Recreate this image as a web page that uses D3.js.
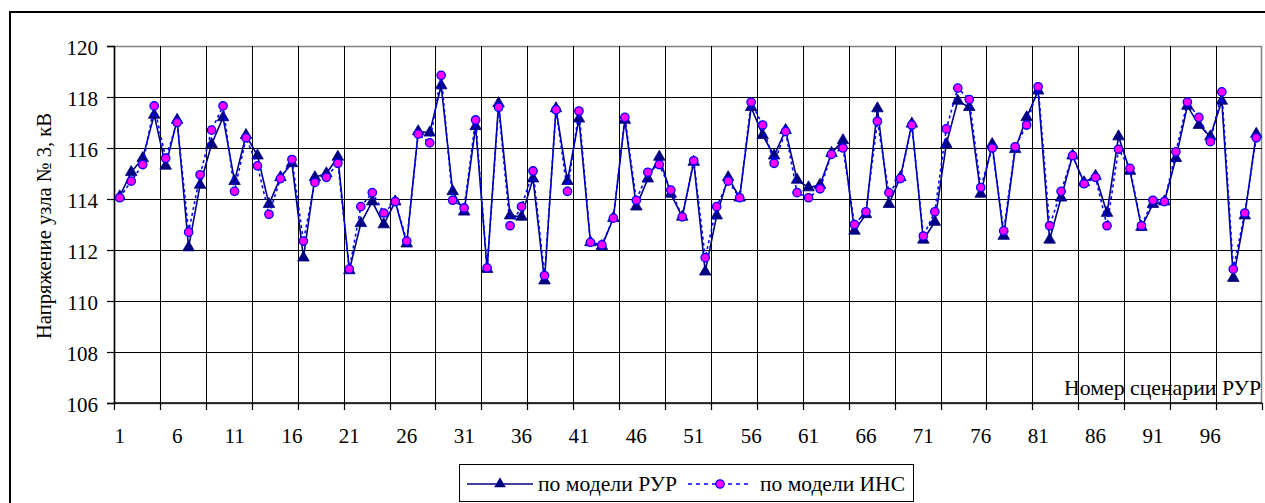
<!DOCTYPE html>
<html><head><meta charset="utf-8">
<script src="https://cdn.jsdelivr.net/npm/d3@7"></script>
<style>
html,body{margin:0;padding:0;background:#fff;}
svg text{font-family:"Liberation Serif","Times New Roman","DejaVu Serif",serif;fill:#000;}
</style></head>
<body><svg id="c" width="1265" height="503"></svg>
<script>
const categories = d3.range(1, 101);
const xTickLabels = [1,6,11,16,21,26,31,36,41,46,51,56,61,66,71,76,81,86,91,96];
const yTicks = [106,108,110,112,114,116,118,120];
const seriesNames = ["по модели РУР", "по модели ИНС"];
const rur = [114.1,115.05,115.6,117.3,115.3,117.1,112.1,114.55,116.15,117.2,
  114.7,116.5,115.7,113.8,114.85,115.4,111.7,114.85,115.0,115.65,
  111.2,113.05,113.9,113.0,113.9,112.25,116.65,116.6,118.45,114.3,
  113.5,116.85,111.25,117.75,113.35,113.3,114.8,110.8,117.55,114.7,
  117.15,112.3,112.15,113.25,117.1,113.7,114.8,115.65,114.2,113.3,
  115.45,111.15,113.35,114.85,114.05,117.6,116.5,115.7,116.7,114.75,
  114.45,114.55,115.8,116.3,112.75,113.4,117.55,113.8,114.85,116.95,
  112.4,113.1,116.15,117.85,117.6,114.2,116.15,112.55,115.95,117.2,
  118.25,112.4,114.05,115.7,114.65,114.9,113.45,116.45,115.1,112.9,
  113.8,113.9,115.6,117.65,116.9,116.45,117.85,110.9,113.35,116.55];
const ins = [114.05,114.7,115.35,117.65,115.6,117.0,112.7,114.95,116.7,117.65,
  114.3,116.4,115.3,113.4,114.8,115.55,112.35,114.65,114.85,115.4,
  111.25,113.7,114.25,113.45,113.9,112.35,116.55,116.2,118.85,113.95,
  113.65,117.1,111.3,117.6,112.95,113.7,115.1,111.0,117.5,114.3,
  117.45,112.3,112.2,113.25,117.2,113.95,115.05,115.35,114.35,113.3,
  115.5,111.7,113.7,114.7,114.05,117.8,116.9,115.4,116.65,114.25,
  114.05,114.4,115.75,116.0,113.0,113.5,117.05,114.25,114.8,116.9,
  112.55,113.5,116.75,118.35,117.9,114.45,116.0,112.75,116.05,116.9,
  118.4,112.95,114.3,115.7,114.6,114.85,112.95,115.95,115.2,112.95,
  113.95,113.9,115.85,117.8,117.2,116.25,118.2,111.25,113.45,116.4];

const FONT = "Liberation Serif, Times New Roman, DejaVu Serif, serif";
const FS = 21;
const svg = d3.select("#c");
const L = 114, R = 1262, T = 46, B = 403;
const x = d3.scaleBand().domain(categories).range([L, R]).padding(0);
const xc = d => x(d) + x.bandwidth() / 2;
const y = d3.scaleLinear().domain([106, 120]).range([B, T]);

// outer frame
svg.append("path").attr("d", `M10,503 V12 H1265`).attr("fill","none")
  .attr("stroke","#000").attr("stroke-width",2);

// plot area border (gray)
svg.append("rect").attr("x",L+0.5).attr("y",T+0.5).attr("width",R-L-1).attr("height",B-T)
  .attr("fill","none").attr("stroke","#808080").attr("stroke-width",1.5);

// gridline boundaries every 4 categories
const boundaries = categories.filter((d,i) => i % 4 === 0).map(d => x(d)).concat([R]);

const g = svg.append("g").attr("shape-rendering","crispEdges");
g.selectAll("line.hg").data(yTicks.filter(v => v > 106 && v < 120)).join("line")
  .attr("class","hg").attr("x1",L).attr("x2",R).attr("y1",d=>Math.round(y(d))+0.5).attr("y2",d=>Math.round(y(d))+0.5)
  .attr("stroke","#000").attr("stroke-width",1);
g.selectAll("line.vg").data(boundaries.slice(1, -1)).join("line")
  .attr("class","vg").attr("y1",T).attr("y2",B).attr("x1",d=>Math.round(d)+0.5).attr("x2",d=>Math.round(d)+0.5)
  .attr("stroke","#000").attr("stroke-width",1);

// y axis
const yAxis = svg.append("g").attr("transform",`translate(${L},0)`)
  .call(d3.axisLeft(y).tickValues(yTicks).tickSize(7).tickPadding(9).tickFormat(d3.format("d")));
yAxis.attr("font-family",FONT).attr("font-size",FS);
yAxis.select(".domain").attr("stroke","#000").attr("stroke-width",1.5);
yAxis.selectAll(".tick line").attr("stroke","#000").attr("stroke-width",1.2);
yAxis.selectAll(".tick text").attr("font-size",FS).attr("font-family",FONT).attr("fill","#000").attr("dy","0.42em");

// x axis: tick marks at boundaries, labels at category centers
const xTickAxis = svg.append("g").attr("transform",`translate(0,${B})`);
xTickAxis.append("line").attr("x1",L).attr("x2",R).attr("y1",0).attr("y2",0).attr("stroke","#000").attr("stroke-width",1.5);
xTickAxis.selectAll("line.t").data(boundaries).join("line").attr("class","t")
  .attr("x1",d=>Math.round(d)+0.5).attr("x2",d=>Math.round(d)+0.5).attr("y1",0).attr("y2",7)
  .attr("stroke","#000").attr("stroke-width",1.2);
const xLab = svg.append("g").attr("transform",`translate(0,${B})`)
  .call(d3.axisBottom(x).tickValues(xTickLabels).tickSize(0).tickPadding(25));
xLab.attr("font-family",FONT).attr("font-size",FS);
xLab.select(".domain").remove();
xLab.selectAll(".tick text").attr("font-size",FS).attr("font-family",FONT).attr("fill","#000");

// titles
svg.append("text").attr("transform","translate(51,226) rotate(-90)").attr("text-anchor","middle")
  .attr("font-family",FONT).attr("font-size",FS).attr("textLength",226).attr("lengthAdjust","spacingAndGlyphs")
  .text("Напряжение узла № 3, кВ");
svg.append("text").attr("x",1261).attr("y",395).attr("text-anchor","end")
  .attr("font-family",FONT).attr("font-size",FS).attr("textLength",197).attr("lengthAdjust","spacingAndGlyphs")
  .text("Номер сценарии РУР");

// series 1: РУР
const line1 = d3.line().x((d,i)=>xc(categories[i])).y(d=>y(d));
svg.append("path").datum(rur).attr("d",line1).attr("fill","none").attr("stroke","#000080").attr("stroke-width",1.6);
const tri = d3.symbol().type(d3.symbolTriangle).size(58);
svg.append("g").selectAll("path").data(rur).join("path")
  .attr("transform",(d,i)=>`translate(${xc(categories[i])},${y(d)})`).attr("d",tri)
  .attr("fill","#000080").attr("stroke","#000080").attr("stroke-width",0.8);

// series 2: ИНС
svg.append("path").datum(ins).attr("d",line1).attr("fill","none").attr("stroke","#0000ff")
  .attr("stroke-width",1.6).attr("stroke-dasharray","3,3");
svg.append("g").selectAll("circle").data(ins).join("circle")
  .attr("cx",(d,i)=>xc(categories[i])).attr("cy",d=>y(d)).attr("r",4.2)
  .attr("fill","#ff00ff").attr("stroke","#0000ff").attr("stroke-width",1.3);

// legend
const lg = svg.append("g");
lg.append("rect").attr("x",459.5).attr("y",464.5).attr("width",454).attr("height",37)
  .attr("fill","#fff").attr("stroke","#000").attr("stroke-width",1);
lg.append("line").attr("x1",467).attr("x2",533).attr("y1",484).attr("y2",484).attr("stroke","#000080").attr("stroke-width",1.6);
lg.append("path").attr("transform","translate(500,484)").attr("d",tri).attr("fill","#000080");
lg.append("text").attr("x",538).attr("y",491).attr("font-family",FONT).attr("font-size",FS)
  .attr("textLength",139).attr("lengthAdjust","spacingAndGlyphs").text(seriesNames[0]);
lg.append("line").attr("x1",688).attr("x2",752).attr("y1",484).attr("y2",484).attr("stroke","#0000ff")
  .attr("stroke-width",1.6).attr("stroke-dasharray","4,4");
lg.append("circle").attr("cx",720).attr("cy",484).attr("r",4.2).attr("fill","#ff00ff").attr("stroke","#0000ff").attr("stroke-width",1.3);
lg.append("text").attr("x",760).attr("y",491).attr("font-family",FONT).attr("font-size",FS)
  .attr("textLength",145).attr("lengthAdjust","spacingAndGlyphs").text(seriesNames[1]);
</script></body></html>
